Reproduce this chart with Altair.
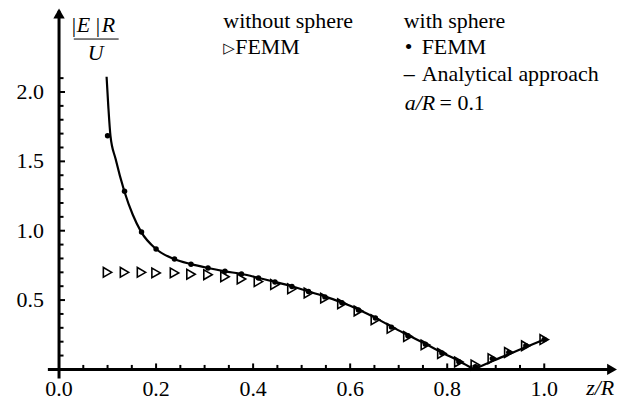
import altair as alt
import pandas as pd

# ---------------- data ----------------
z_femm = [0.100, 0.135, 0.170, 0.200, 0.238, 0.272, 0.307, 0.342, 0.376, 0.411,
          0.445, 0.480, 0.514, 0.548, 0.583, 0.617, 0.652, 0.685, 0.719, 0.755,
          0.789, 0.824, 0.858, 0.893, 0.927, 0.962, 1.000]
e_without = [0.700, 0.700, 0.700, 0.696, 0.696, 0.686, 0.683, 0.668, 0.652, 0.633,
             0.612, 0.581, 0.551, 0.514, 0.473, 0.422, 0.358, 0.296, 0.237, 0.177,
             0.115, 0.054, 0.032, 0.077, 0.122, 0.170, 0.215]
e_with = [1.685, 1.285, 0.990, 0.868, 0.796, 0.758, 0.731, 0.707, 0.688, 0.659,
          0.630, 0.598, 0.562, 0.523, 0.480, 0.428, 0.370, 0.305, 0.243, 0.181,
          0.118, 0.056, 0.020, 0.078, 0.123, 0.170, 0.215]

z_curve_a = [0.098, 0.1015, 0.106, 0.1165, 0.1347, 0.152, 0.1695, 0.200, 0.237, 0.272,
             0.307, 0.342, 0.377, 0.412, 0.446, 0.481, 0.515, 0.550, 0.585, 0.619,
             0.654, 0.688, 0.723, 0.758, 0.792, 0.827, 0.855]
e_curve_a = [2.110, 1.900, 1.684, 1.518, 1.283, 1.115, 0.990, 0.868, 0.796, 0.759,
             0.731, 0.707, 0.688, 0.659, 0.630, 0.598, 0.562, 0.523, 0.480, 0.428,
             0.368, 0.303, 0.241, 0.179, 0.117, 0.055, 0.000]
z_curve_b = [0.855, 0.896, 0.931, 0.965, 1.000]
e_curve_b = [0.000, 0.064, 0.115, 0.165, 0.215]

x_tick_major = [0.2, 0.4, 0.6, 0.8, 1.0]
x_tick_minor = [0.05, 0.1, 0.15, 0.25, 0.3, 0.35, 0.45, 0.5, 0.55, 0.65, 0.7, 0.75,
                0.85, 0.9, 0.95]
y_tick_major = [0.5, 1.0, 1.5, 2.0]
y_tick_minor = [0.1, 0.2, 0.3, 0.4, 0.6, 0.7, 0.8, 0.9, 1.1, 1.2, 1.3, 1.4,
                1.6, 1.7, 1.8, 1.9, 2.1]
x_label_pos = [0.0, 0.2, 0.4, 0.6, 0.8, 1.0]
x_label_txt = ["0.0", "0.2", "0.4", "0.6", "0.8", "1.0"]
y_label_pos = [0.5, 1.0, 1.5, 2.0]
y_label_txt = ["0.5", "1.0", "1.5", "2.0"]

# ---------------- layout ----------------
X_DOM = [-0.023, 1.15]
Y_DOM = [-0.065, 2.601]
W, H = 571, 371
FONT = "Liberation Serif"
FS = 22

xs = alt.Scale(domain=X_DOM, nice=False, zero=False)
ys = alt.Scale(domain=Y_DOM, nice=False, zero=False)

def X(f):
    return alt.X(f, type="quantitative", scale=xs, axis=None)

def Y(f):
    return alt.Y(f, type="quantitative", scale=ys, axis=None)

# axis lines
axes_df = pd.DataFrame({"x": [X_DOM[0], 0.0], "x2": [1.135, 0.0],
                        "y": [0.0, Y_DOM[0]], "y2": [0.0, 2.585]})
axes = alt.Chart(axes_df).mark_rule(color="black", strokeWidth=3).encode(
    x=X("x"), x2="x2", y=Y("y"), y2="y2")

# arrow heads
arr_df = pd.DataFrame({"x": [1.1397, 0.0], "y": [0.0, 2.566],
                       "s": ["triangle-right", "triangle-up"]})
arrows = alt.Chart(arr_df).mark_point(filled=True, color="black", size=130, opacity=1).encode(
    x=X("x"), y=Y("y"), shape=alt.Shape("s:N", scale=None, legend=None))

# ticks
minor_x_len, major_x_len = 4.5 / 139.15, 6.0 / 139.15
minor_y_len, major_y_len = 4.5 / 486.8, 6.0 / 486.8
rows = []
for v in x_tick_minor:
    rows.append({"x": v, "x2": v, "y": 0.0, "y2": minor_x_len})
for v in x_tick_major:
    rows.append({"x": v, "x2": v, "y": 0.0, "y2": major_x_len})
for v in y_tick_minor:
    rows.append({"x": 0.0, "x2": minor_y_len, "y": v, "y2": v})
for v in y_tick_major:
    rows.append({"x": 0.0, "x2": major_y_len, "y": v, "y2": v})
ticks = alt.Chart(pd.DataFrame(rows)).mark_rule(color="black", strokeWidth=2).encode(
    x=X("x"), x2="x2", y=Y("y"), y2="y2")

# analytical curve
curve_df = pd.DataFrame({
    "z": z_curve_a + z_curve_b,
    "e": e_curve_a + e_curve_b,
    "seg": ["a"] * len(z_curve_a) + ["b"] * len(z_curve_b),
})
curve = alt.Chart(curve_df).mark_line(color="black", strokeWidth=2.2, interpolate="monotone").encode(
    x=X("z"), y=Y("e"), detail="seg:N", order="z:Q")

femm_df = pd.DataFrame({"z": z_femm, "without": e_without, "with": e_with})
dots = alt.Chart(femm_df).mark_circle(color="black", size=30, opacity=1).encode(
    x=X("z"), y=Y("with"))
tris = alt.Chart(femm_df).mark_point(shape="triangle-right", color="black", filled=False,
                                     size=95, strokeWidth=1.6, opacity=1).encode(
    x=X("z"), y=Y("without"))

# tick labels
xlab = alt.Chart(pd.DataFrame({"p": x_label_pos, "t": x_label_txt})).mark_text(
    font=FONT, fontSize=FS, align="center", baseline="alphabetic", color="black").encode(
    x=X("p"), y=alt.value(389), text="t:N")
ylab = alt.Chart(pd.DataFrame({"p": y_label_pos, "t": y_label_txt})).mark_text(
    font=FONT, fontSize=FS, align="right", baseline="middle", color="black").encode(
    x=alt.value(-4), y=Y("p"), text="t:N")

def txt(s, px, py, italic=False, size=FS, font=FONT, align="left"):
    kw = dict(font=font, fontSize=size, align=align, baseline="alphabetic", color="black")
    if italic:
        kw["fontStyle"] = "italic"
    return alt.Chart(pd.DataFrame({"t": [s]})).mark_text(**kw).encode(
        x=alt.value(px - 48), y=alt.value(py - 8), text="t:N")

texts = [
    txt("without sphere", 224, 27),
    txt("\u25B7", 224, 53, size=15, font="DejaVu Sans"),
    txt("FEMM", 236, 54),
    txt("with sphere", 405, 27),
    txt("\u2022", 406, 54),
    txt("FEMM", 423, 54),
    txt("\u2013", 405, 81),
    txt("Analytical approach", 423, 81),
    txt("a/R", 406, 110, italic=True),
    txt("= 0.1", 441, 110),
    # y title |E|R / U
    txt("|", 72, 31),
    txt("E", 77, 31, italic=True),
    txt("|", 96, 31),
    txt("R", 102, 31, italic=True),
    txt("U", 96, 60, italic=True, align="center"),
    txt("z/R", 588, 396, italic=True),
]
frac = alt.Chart(pd.DataFrame({"a": [0]})).mark_rule(color="black", strokeWidth=1).encode(
    x=alt.value(74 - 48), x2=alt.value(119 - 48), y=alt.value(38.5 - 8))

chart = alt.layer(axes, ticks, curve, dots, tris, arrows, xlab, ylab, frac, *texts).properties(
    width=W, height=H,
    autosize=alt.AutoSizeParams(type="none"),
    padding={"left": 40, "top": 0, "right": 12, "bottom": 23},
    background="white",
).configure_view(stroke=None)

chart.save("out.html", embed_options={"renderer": "svg", "actions": False})
